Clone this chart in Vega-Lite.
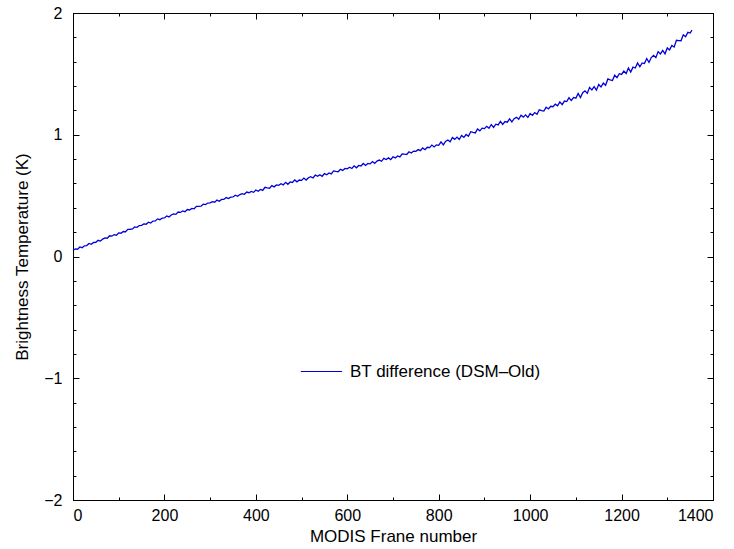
{
  "$schema": "https://vega.github.io/schema/vega-lite/v6.json",
  "width": 640,
  "height": 487,
  "autosize": {"type": "none"},
  "padding": {"left": 73, "top": 13, "right": 21, "bottom": 49},
  "background": "white",
  "config": {
    "view": {"stroke": "#000", "strokeWidth": 1},
    "axis": {
      "labelFont": "Liberation Sans", "titleFont": "Liberation Sans",
      "labelFontSize": 16, "titleFontSize": 17, "titleFontWeight": "normal",
      "labelColor": "#000", "titleColor": "#000", "domainColor": "#000", "tickColor": "#000",
      "grid": false, "domainWidth": 1, "tickWidth": 1
    },
    "legend": {"labelFont": "Liberation Sans", "labelFontSize": 17, "labelColor": "#000", "labelLimit": 0}
  },
  "datasets": {
    "dummy": [{"x": 0, "y": 0}],
    "bt": [
      {"x":0,"y":0.050},{"x":5,"y":0.063},{"x":10,"y":0.060},{"x":15,"y":0.078},{"x":20,"y":0.072},{"x":25,"y":0.088},{"x":30,"y":0.090},{"x":35,"y":0.107},{"x":40,"y":0.100},{"x":45,"y":0.115},
      {"x":50,"y":0.117},{"x":55,"y":0.133},{"x":60,"y":0.127},{"x":65,"y":0.143},{"x":70,"y":0.153},{"x":75,"y":0.150},{"x":80,"y":0.170},{"x":85,"y":0.167},{"x":90,"y":0.180},{"x":95,"y":0.175},
      {"x":100,"y":0.194},{"x":105,"y":0.191},{"x":110,"y":0.205},{"x":115,"y":0.203},{"x":120,"y":0.223},{"x":125,"y":0.224},{"x":130,"y":0.226},{"x":135,"y":0.243},{"x":140,"y":0.240},{"x":145,"y":0.254},
      {"x":150,"y":0.256},{"x":155,"y":0.268},{"x":160,"y":0.265},{"x":165,"y":0.282},{"x":170,"y":0.275},{"x":175,"y":0.291},{"x":180,"y":0.292},{"x":185,"y":0.309},{"x":190,"y":0.302},{"x":195,"y":0.315},
      {"x":200,"y":0.317},{"x":205,"y":0.333},{"x":210,"y":0.325},{"x":215,"y":0.341},{"x":220,"y":0.350},{"x":225,"y":0.346},{"x":230,"y":0.365},{"x":235,"y":0.362},{"x":240,"y":0.374},{"x":245,"y":0.368},
      {"x":250,"y":0.386},{"x":255,"y":0.382},{"x":260,"y":0.395},{"x":265,"y":0.392},{"x":270,"y":0.412},{"x":275,"y":0.412},{"x":280,"y":0.413},{"x":285,"y":0.430},{"x":290,"y":0.426},{"x":295,"y":0.439},
      {"x":300,"y":0.440},{"x":305,"y":0.451},{"x":310,"y":0.446},{"x":315,"y":0.463},{"x":320,"y":0.454},{"x":325,"y":0.469},{"x":330,"y":0.469},{"x":335,"y":0.484},{"x":340,"y":0.476},{"x":345,"y":0.488},
      {"x":350,"y":0.489},{"x":355,"y":0.503},{"x":360,"y":0.494},{"x":365,"y":0.509},{"x":370,"y":0.516},{"x":375,"y":0.511},{"x":380,"y":0.529},{"x":385,"y":0.524},{"x":390,"y":0.534},{"x":395,"y":0.527},
      {"x":400,"y":0.546},{"x":405,"y":0.536},{"x":410,"y":0.551},{"x":415,"y":0.543},{"x":420,"y":0.568},{"x":425,"y":0.564},{"x":430,"y":0.561},{"x":435,"y":0.582},{"x":440,"y":0.572},{"x":445,"y":0.588},
      {"x":450,"y":0.585},{"x":455,"y":0.598},{"x":460,"y":0.588},{"x":465,"y":0.609},{"x":470,"y":0.593},{"x":475,"y":0.612},{"x":480,"y":0.608},{"x":485,"y":0.629},{"x":490,"y":0.613},{"x":495,"y":0.628},
      {"x":500,"y":0.625},{"x":505,"y":0.644},{"x":510,"y":0.628},{"x":515,"y":0.647},{"x":520,"y":0.655},{"x":525,"y":0.645},{"x":530,"y":0.669},{"x":535,"y":0.659},{"x":540,"y":0.672},{"x":545,"y":0.659},
      {"x":550,"y":0.681},{"x":555,"y":0.671},{"x":560,"y":0.686},{"x":565,"y":0.678},{"x":570,"y":0.703},{"x":575,"y":0.699},{"x":580,"y":0.696},{"x":585,"y":0.717},{"x":590,"y":0.707},{"x":595,"y":0.723},
      {"x":600,"y":0.720},{"x":605,"y":0.733},{"x":610,"y":0.723},{"x":615,"y":0.745},{"x":620,"y":0.729},{"x":625,"y":0.748},{"x":630,"y":0.744},{"x":635,"y":0.764},{"x":640,"y":0.748},{"x":645,"y":0.764},
      {"x":650,"y":0.761},{"x":655,"y":0.780},{"x":660,"y":0.765},{"x":665,"y":0.784},{"x":670,"y":0.792},{"x":675,"y":0.782},{"x":680,"y":0.806},{"x":685,"y":0.797},{"x":690,"y":0.810},{"x":695,"y":0.796},
      {"x":700,"y":0.819},{"x":705,"y":0.810},{"x":710,"y":0.826},{"x":715,"y":0.818},{"x":720,"y":0.843},{"x":725,"y":0.840},{"x":730,"y":0.838},{"x":735,"y":0.860},{"x":740,"y":0.850},{"x":745,"y":0.866},
      {"x":750,"y":0.864},{"x":755,"y":0.878},{"x":760,"y":0.869},{"x":765,"y":0.892},{"x":770,"y":0.877},{"x":775,"y":0.897},{"x":780,"y":0.894},{"x":785,"y":0.915},{"x":790,"y":0.900},{"x":795,"y":0.917},
      {"x":800,"y":0.913},{"x":805,"y":0.941},{"x":810,"y":0.917},{"x":815,"y":0.945},{"x":820,"y":0.957},{"x":825,"y":0.942},{"x":830,"y":0.977},{"x":835,"y":0.962},{"x":840,"y":0.981},{"x":845,"y":0.961},
      {"x":850,"y":0.994},{"x":855,"y":0.979},{"x":860,"y":1.002},{"x":865,"y":0.988},{"x":870,"y":1.025},{"x":875,"y":1.019},{"x":880,"y":1.015},{"x":885,"y":1.047},{"x":890,"y":1.032},{"x":895,"y":1.054},
      {"x":900,"y":1.050},{"x":905,"y":1.069},{"x":910,"y":1.053},{"x":915,"y":1.084},{"x":920,"y":1.060},{"x":925,"y":1.087},{"x":930,"y":1.081},{"x":935,"y":1.110},{"x":940,"y":1.085},{"x":945,"y":1.108},
      {"x":950,"y":1.103},{"x":955,"y":1.130},{"x":960,"y":1.105},{"x":965,"y":1.132},{"x":970,"y":1.143},{"x":975,"y":1.127},{"x":980,"y":1.161},{"x":985,"y":1.145},{"x":990,"y":1.163},{"x":995,"y":1.142},
      {"x":1000,"y":1.174},{"x":1005,"y":1.159},{"x":1010,"y":1.182},{"x":1015,"y":1.168},{"x":1020,"y":1.205},{"x":1025,"y":1.199},{"x":1030,"y":1.195},{"x":1035,"y":1.227},{"x":1040,"y":1.212},{"x":1045,"y":1.234},
      {"x":1050,"y":1.230},{"x":1055,"y":1.251},{"x":1060,"y":1.237},{"x":1065,"y":1.270},{"x":1070,"y":1.248},{"x":1075,"y":1.277},{"x":1080,"y":1.273},{"x":1085,"y":1.304},{"x":1090,"y":1.281},{"x":1095,"y":1.306},
      {"x":1100,"y":1.300},{"x":1105,"y":1.339},{"x":1110,"y":1.306},{"x":1115,"y":1.345},{"x":1120,"y":1.361},{"x":1125,"y":1.340},{"x":1130,"y":1.389},{"x":1135,"y":1.368},{"x":1140,"y":1.395},{"x":1145,"y":1.366},
      {"x":1150,"y":1.413},{"x":1155,"y":1.392},{"x":1160,"y":1.424},{"x":1165,"y":1.406},{"x":1170,"y":1.458},{"x":1175,"y":1.450},{"x":1180,"y":1.445},{"x":1185,"y":1.489},{"x":1190,"y":1.469},{"x":1195,"y":1.501},
      {"x":1200,"y":1.495},{"x":1205,"y":1.523},{"x":1210,"y":1.503},{"x":1215,"y":1.548},{"x":1220,"y":1.515},{"x":1225,"y":1.555},{"x":1230,"y":1.548},{"x":1235,"y":1.590},{"x":1240,"y":1.558},{"x":1245,"y":1.590},
      {"x":1250,"y":1.585},{"x":1255,"y":1.626},{"x":1260,"y":1.594},{"x":1265,"y":1.634},{"x":1270,"y":1.652},{"x":1275,"y":1.633},{"x":1280,"y":1.683},{"x":1285,"y":1.664},{"x":1290,"y":1.692},{"x":1295,"y":1.665},
      {"x":1300,"y":1.713},{"x":1305,"y":1.697},{"x":1310,"y":1.733},{"x":1315,"y":1.720},{"x":1320,"y":1.776},{"x":1325,"y":1.773},{"x":1330,"y":1.772},{"x":1335,"y":1.821},{"x":1340,"y":1.805},{"x":1345,"y":1.841},
      {"x":1350,"y":1.835},{"x":1354,"y":1.860}
    ]
  },
  "resolve": {"axis": {"x": "independent", "y": "independent"}},
  "layer": [
    {
      "data": {"name": "bt"},
      "mark": {"type": "line", "strokeWidth": 1.3},
      "encoding": {
        "x": {"field": "x", "type": "quantitative",
          "scale": {"domain": [0, 1400], "nice": false, "zero": false},
          "axis": {"orient": "bottom", "values": [0, 200, 400, 600, 800, 1000, 1200, 1400], "format": "d", "tickSize": -6, "labelPadding": 13, "title": "MODIS Frane number", "titlePadding": 5}},
        "y": {"field": "y", "type": "quantitative",
          "scale": {"domain": [-2, 2], "nice": false, "zero": false},
          "axis": {"orient": "left", "values": [-2, -1, 0, 1, 2], "format": "d", "tickSize": -6, "labelPadding": 17, "title": "Brightness Temperature (K)", "titlePadding": 12}},
        "color": {"datum": "BT difference (DSM–Old)", "type": "nominal",
          "scale": {"range": ["#0000d8"]},
          "legend": {"title": null, "orient": "none", "legendX": 227, "legendY": 337, "symbolType": "stroke", "symbolSize": 1700, "symbolStrokeWidth": 1, "labelOffset": 7, "padding": 0, "labelLimit": 0}}
      }
    },
    {
      "data": {"name": "dummy"},
      "mark": {"type": "point", "opacity": 0},
      "encoding": {
        "x": {"field": "x", "type": "quantitative",
          "axis": {"orient": "bottom", "values": [100, 300, 500, 700, 900, 1100, 1300], "tickSize": -3, "labels": false, "domain": false, "title": null}},
        "y": {"field": "y", "type": "quantitative",
          "axis": {"orient": "left", "values": [-1.8, -1.6, -1.4, -1.2, -0.8, -0.6, -0.4, -0.2, 0.2, 0.4, 0.6, 0.8, 1.2, 1.4, 1.6, 1.8], "tickSize": -3, "labels": false, "domain": false, "title": null}}
      }
    },
    {
      "data": {"name": "dummy"},
      "mark": {"type": "point", "opacity": 0},
      "encoding": {
        "x": {"field": "x", "type": "quantitative",
          "axis": {"orient": "top", "values": [0, 200, 400, 600, 800, 1000, 1200, 1400], "tickSize": -6, "labels": false, "title": null}},
        "y": {"field": "y", "type": "quantitative",
          "axis": {"orient": "right", "values": [-2, -1, 0, 1, 2], "tickSize": -6, "labels": false, "title": null}}
      }
    },
    {
      "data": {"name": "dummy"},
      "mark": {"type": "point", "opacity": 0},
      "encoding": {
        "x": {"field": "x", "type": "quantitative",
          "axis": {"orient": "top", "values": [100, 300, 500, 700, 900, 1100, 1300], "tickSize": -3, "labels": false, "domain": false, "title": null}},
        "y": {"field": "y", "type": "quantitative",
          "axis": {"orient": "right", "values": [-1.8, -1.6, -1.4, -1.2, -0.8, -0.6, -0.4, -0.2, 0.2, 0.4, 0.6, 0.8, 1.2, 1.4, 1.6, 1.8], "tickSize": -3, "labels": false, "domain": false, "title": null}}
      }
    }
  ]
}
